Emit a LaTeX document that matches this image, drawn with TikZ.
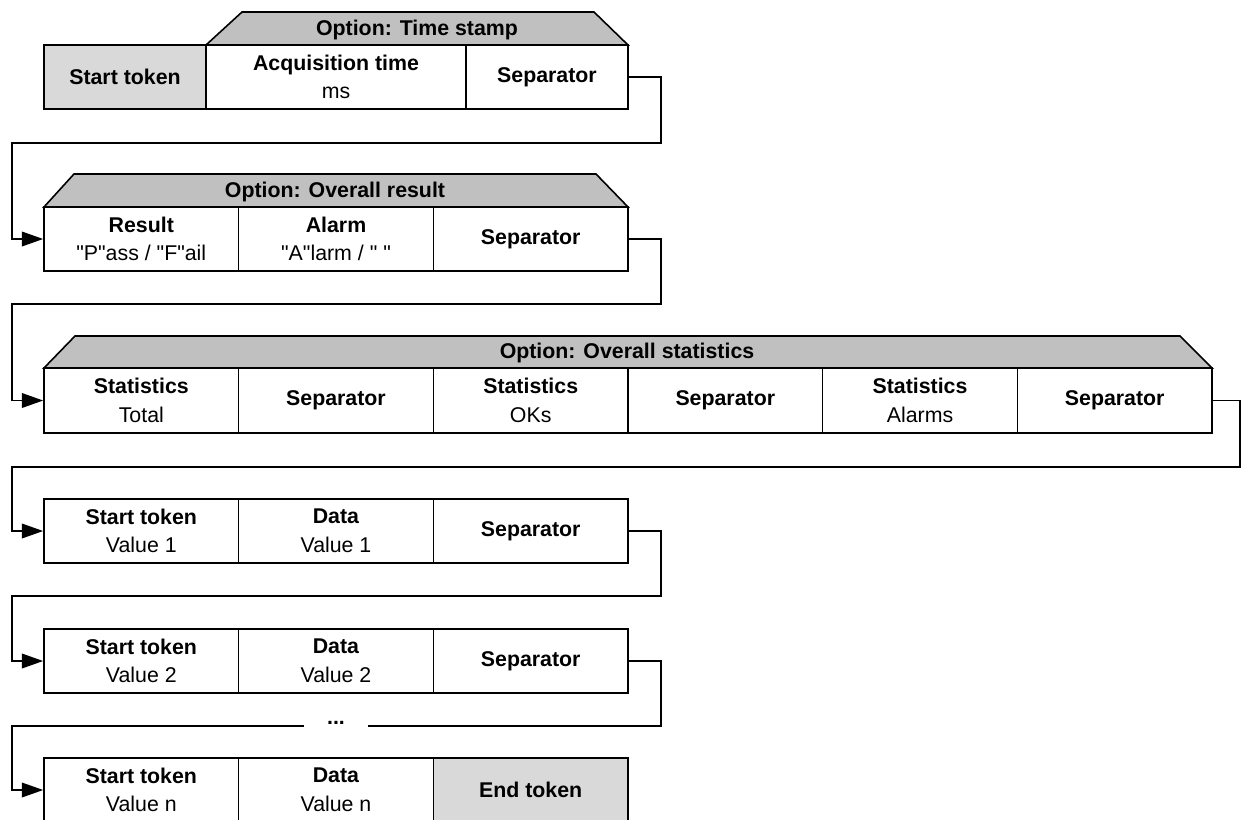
\documentclass[tikz,border=0pt]{standalone}
\usepackage{fontspec}
\setmainfont[Ligatures=TeXOff]{Liberation Sans}
\usetikzlibrary{arrows.meta}
\definecolor{tokgray}{RGB}{217,217,217}
\definecolor{optgray}{RGB}{192,192,192}
\newcommand\qq{\symbol{34}}
\tikzset{
  cell/.style={draw, line width=1.2pt, inner sep=0pt, align=center,
    font=\fontsize{16pt}{21.5pt}\selectfont, minimum height=64*0.75pt},
  w162/.style={minimum width=162*0.75pt},
  w260/.style={minimum width=260*0.75pt},
  w195/.style={minimum width=194.67*0.75pt},
  tok/.style={fill=tokgray},
  opt/.style={fill=optgray, draw, line width=1.2pt, line join=miter},
  optlabel/.style={inner sep=0pt, font=\fontsize{16pt}{21.5pt}\selectfont\bfseries},
  conn/.style={line width=1.2pt, -{Triangle[length=16pt,width=11pt]}},
  plain/.style={line width=1.2pt}
}
\begin{document}
\begin{tikzpicture}[x=0.75pt,y=-0.75pt]
\useasboundingbox (0,0) rectangle (1245,819);
\clip (0,0) rectangle (1245,819);
% Row 1
\filldraw[opt] (206,45) -- (242,12) -- (594,12) -- (628,45) -- cycle;
\node[optlabel] (t1) at (417,29.5) {Option: Time stamp};
\node[cell,w162,tok] (a1) at (125,77) {\textbf{Start token}};
\node[cell,w260] (a2) at (336,77) {\textbf{Acquisition time}\\ms};
\node[cell,w162] (a3) at (547,77) {\textbf{Separator}};
% Row 2
\filldraw[opt] (44,207) -- (74,174) -- (596,174) -- (628,207) -- cycle;
\node[optlabel] (t2) at (335,191.5) {Option: Overall result};
\node[cell,w195] (b1) at (141.3,239) {\textbf{Result}\\\qq P\qq ass / \qq F\qq ail};
\node[cell,w195] (b2) at (336,239) {\textbf{Alarm}\\\qq A\qq larm / \qq\ \qq};
\node[cell,w195] (b3) at (530.7,239) {\textbf{Separator}};
% Row 3
\filldraw[opt] (44,368) -- (75,336) -- (1180,336) -- (1212,368) -- cycle;
\node[optlabel] (t3) at (627,353) {Option: Overall statistics};
\node[cell,w195,minimum height=65*0.75pt] (c1) at (141.3,400.5) {\textbf{Statistics}\\Total};
\node[cell,w195,minimum height=65*0.75pt] (c2) at (336,400.5) {\textbf{Separator}};
\node[cell,w195,minimum height=65*0.75pt] (c3) at (530.7,400.5) {\textbf{Statistics}\\OKs};
\node[cell,w195,minimum height=65*0.75pt] (c4) at (725.3,400.5) {\textbf{Separator}};
\node[cell,w195,minimum height=65*0.75pt] (c5) at (920,400.5) {\textbf{Statistics}\\Alarms};
\node[cell,w195,minimum height=65*0.75pt] (c6) at (1114.7,400.5) {\textbf{Separator}};
% Row 4
\node[cell,w195] (d1) at (141.3,531) {\textbf{Start token}\\Value 1};
\node[cell,w195] (d2) at (336,531) {\textbf{Data}\\Value 1};
\node[cell,w195] (d3) at (530.7,531) {\textbf{Separator}};
% Row 5
\node[cell,w195] (e1) at (141.3,661) {\textbf{Start token}\\Value 2};
\node[cell,w195] (e2) at (336,661) {\textbf{Data}\\Value 2};
\node[cell,w195] (e3) at (530.7,661) {\textbf{Separator}};
% Row 6
\node[cell,w195] (f1) at (141.3,790) {\textbf{Start token}\\Value n};
\node[cell,w195] (f2) at (336,790) {\textbf{Data}\\Value n};
\node[cell,w195,tok] (f3) at (530.7,790) {\textbf{End token}};
% dots
\node[inner sep=0pt, minimum width=64*0.75pt, font=\fontsize{16pt}{21pt}\selectfont\bfseries] (dots) at (336,723) {...};
% Connectors
\draw[conn] (a3.east) -- (661,77) -- (661,143) -- (12,143) |- (b1.west);
\draw[conn] (b3.east) -- (661,239) -- (661,304) -- (12,304) |- (c1.west);
\draw[conn] (c6.east) -- (1240,400.5) -- (1240,467) -- (12,467) |- (d1.west);
\draw[conn] (d3.east) -- (661,531) -- (661,596) -- (12,596) |- (e1.west);
\draw[plain] (e3.east) -- (661,661) -- (661,726) -- (dots.east |- 0,726);
\draw[conn] (dots.west |- 0,726) -- (12,726) |- (f1.west);
\end{tikzpicture}
\end{document}
